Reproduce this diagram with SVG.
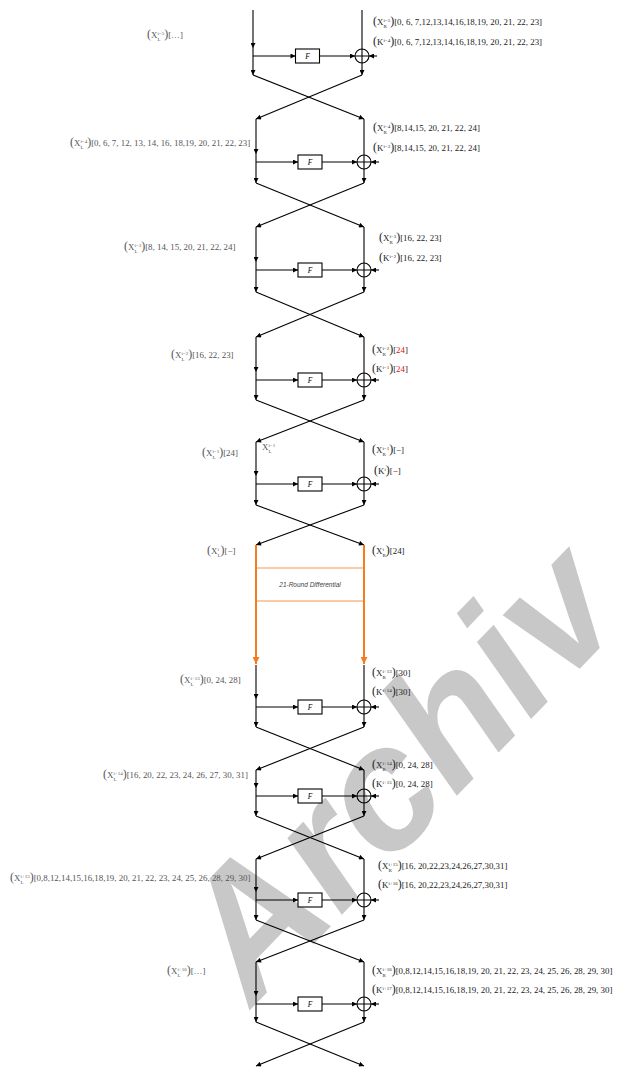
<svg xmlns="http://www.w3.org/2000/svg" width="620" height="1068" viewBox="0 0 620 1068">
<style>
.ln{fill:none;stroke:#000;stroke-width:1.1}
.a{marker-end:url(#ah)}
.or{fill:none;stroke:#f57d1f;stroke-width:2}
.ob{fill:none;stroke:#f57d1f;stroke-width:0.8}
.fb{fill:#fff;stroke:#000;stroke-width:1.1}
.ft{font-family:"Liberation Serif",serif;font-style:italic;font-size:7.5px;fill:#000;text-anchor:middle}
.lb{font-family:"Liberation Serif",serif;font-size:8.9px;fill:#222}
.lg{fill:#555}
.p{font-size:12px}
.s{font-size:5px}
.red{fill:#e01010}
.wm{font-family:"Liberation Sans",sans-serif;font-weight:bold;font-style:italic;font-size:175px;fill:#c8c8c8}
.dt{font-family:"Liberation Sans",sans-serif;font-style:italic;font-size:6.5px;fill:#444;text-anchor:middle}
</style>
<defs>
<marker id="ah" viewBox="0 0 10 10" refX="10" refY="5" markerWidth="6" markerHeight="5" markerUnits="userSpaceOnUse" orient="auto"><path d="M0,0 L10,5 L0,10 z" fill="#000"/></marker>
<marker id="oh" viewBox="0 0 10 10" refX="10" refY="5" markerWidth="9" markerHeight="7" markerUnits="userSpaceOnUse" orient="auto"><path d="M0,0 L10,5 L0,10 z" fill="#f57d1f"/></marker>
</defs>
<rect width="620" height="1068" fill="#fff"/>
<text class="wm" transform="translate(252,1008) rotate(-46)">Archiv</text>

<g id="connectors">
<path class="ln a" d="M253,10V48"/><path class="ln a" d="M253,48V75"/><path class="ln a" d="M253,56H295.5"/><path class="ln a" d="M319.5,56H355"/><path class="ln" d="M362,10V49"/><path class="ln a" d="M362,63V75"/><path class="ln a" d="M377,56H369"/><path class="ln a" d="M253,75L364,119"/><path class="ln a" d="M362,75L256,119"/>
<path class="ln a" d="M256,119V154"/><path class="ln a" d="M256,154V183"/><path class="ln a" d="M256,162H298"/><path class="ln a" d="M322,162H357"/><path class="ln" d="M364,119V155"/><path class="ln a" d="M364,169V183"/><path class="ln a" d="M379,162H371"/><path class="ln a" d="M256,183L364,227"/><path class="ln a" d="M364,183L256,227"/>
<path class="ln a" d="M256,227V262"/><path class="ln a" d="M256,262V292"/><path class="ln a" d="M256,270H298"/><path class="ln a" d="M322,270H357"/><path class="ln" d="M364,227V263"/><path class="ln a" d="M364,277V292"/><path class="ln a" d="M379,270H371"/><path class="ln a" d="M256,292L364,337"/><path class="ln a" d="M364,292L256,337"/>
<path class="ln a" d="M256,337V372"/><path class="ln a" d="M256,372V400"/><path class="ln a" d="M256,380H298"/><path class="ln a" d="M322,380H357"/><path class="ln" d="M364,337V373"/><path class="ln a" d="M364,387V400"/><path class="ln a" d="M379,380H371"/><path class="ln a" d="M256,400L364,442"/><path class="ln a" d="M364,400L256,442"/>
<path class="ln a" d="M256,442V476"/><path class="ln a" d="M256,476V505"/><path class="ln a" d="M256,484H298"/><path class="ln a" d="M322,484H357"/><path class="ln" d="M364,442V477"/><path class="ln a" d="M364,491V505"/><path class="ln a" d="M379,484H371"/><path class="ln a" d="M256,505L364,545"/><path class="ln a" d="M364,505L256,545"/>
<path class="or" d="M256,545V664" marker-end="url(#oh)"/><path class="or" d="M364,545V664" marker-end="url(#oh)"/>
<path class="ln a" d="M256,665V699"/><path class="ln a" d="M256,699V727"/><path class="ln a" d="M256,707H298"/><path class="ln a" d="M322,707H357"/><path class="ln" d="M364,665V700"/><path class="ln a" d="M364,714V727"/><path class="ln a" d="M379,707H371"/><path class="ln a" d="M256,727L364,770"/><path class="ln a" d="M364,727L256,770"/>
<path class="ln a" d="M256,770V788"/><path class="ln a" d="M256,788V816"/><path class="ln a" d="M256,796H298"/><path class="ln a" d="M322,796H357"/><path class="ln" d="M364,770V789"/><path class="ln a" d="M364,803V816"/><path class="ln a" d="M379,796H371"/><path class="ln a" d="M256,816L364,859"/><path class="ln a" d="M364,816L256,859"/>
<path class="ln a" d="M256,859V892"/><path class="ln a" d="M256,892V920"/><path class="ln a" d="M256,900H298"/><path class="ln a" d="M322,900H357"/><path class="ln" d="M364,859V893"/><path class="ln a" d="M364,907V920"/><path class="ln a" d="M379,900H371"/><path class="ln a" d="M256,920L364,962"/><path class="ln a" d="M364,920L256,962"/>
<path class="ln a" d="M256,962V996"/><path class="ln a" d="M256,996V1022"/><path class="ln a" d="M256,1004H298"/><path class="ln a" d="M322,1004H357"/><path class="ln" d="M364,962V997"/><path class="ln a" d="M364,1011V1022"/><path class="ln a" d="M379,1004H371"/><path class="ln a" d="M256,1022L364,1066"/><path class="ln a" d="M364,1022L256,1066"/>
</g>

<g id="diff21"><rect class="ob" x="256" y="568" width="108" height="33" fill="#fff"/><text class="dt" x="310" y="587">21-Round Differential</text></g>

<g id="f1"><rect class="fb" x="295.5" y="49" width="24" height="14"/><text class="ft" x="307.5" y="58.5">F</text></g>
<g id="f2"><rect class="fb" x="298" y="155" width="24" height="14"/><text class="ft" x="310" y="164.5">F</text></g>
<g id="f3"><rect class="fb" x="298" y="263" width="24" height="14"/><text class="ft" x="310" y="272.5">F</text></g>
<g id="f4"><rect class="fb" x="298" y="373" width="24" height="14"/><text class="ft" x="310" y="382.5">F</text></g>
<g id="f5"><rect class="fb" x="298" y="477" width="24" height="14"/><text class="ft" x="310" y="486.5">F</text></g>
<g id="f6"><rect class="fb" x="298" y="700" width="24" height="14"/><text class="ft" x="310" y="709.5">F</text></g>
<g id="f7"><rect class="fb" x="298" y="789" width="24" height="14"/><text class="ft" x="310" y="798.5">F</text></g>
<g id="f8"><rect class="fb" x="298" y="893" width="24" height="14"/><text class="ft" x="310" y="902.5">F</text></g>
<g id="f9"><rect class="fb" x="298" y="997" width="24" height="14"/><text class="ft" x="310" y="1006.5">F</text></g>

<g id="x1"><circle class="ln" cx="362" cy="56" r="7"/><path class="ln" d="M355,56H369M362,49V63"/></g>
<g id="x2"><circle class="ln" cx="364" cy="162" r="7"/><path class="ln" d="M357,162H371M364,155V169"/></g>
<g id="x3"><circle class="ln" cx="364" cy="270" r="7"/><path class="ln" d="M357,270H371M364,263V277"/></g>
<g id="x4"><circle class="ln" cx="364" cy="380" r="7"/><path class="ln" d="M357,380H371M364,373V387"/></g>
<g id="x5"><circle class="ln" cx="364" cy="484" r="7"/><path class="ln" d="M357,484H371M364,477V491"/></g>
<g id="x6"><circle class="ln" cx="364" cy="707" r="7"/><path class="ln" d="M357,707H371M364,700V714"/></g>
<g id="x7"><circle class="ln" cx="364" cy="796" r="7"/><path class="ln" d="M357,796H371M364,789V803"/></g>
<g id="x8"><circle class="ln" cx="364" cy="900" r="7"/><path class="ln" d="M357,900H371M364,893V907"/></g>
<g id="x9"><circle class="ln" cx="364" cy="1004" r="7"/><path class="ln" d="M357,1004H371M364,997V1011"/></g>

<g id="labels">
<text class="lb lg" x="147" y="38"><tspan class="p">(</tspan>X<tspan class="s" dy="-3.5">i−5</tspan><tspan class="s" dx="-6.7" dy="6">L</tspan><tspan class="p" dx="3.64" dy="-2.5">)</tspan>[…]</text>
<text class="lb" x="373" y="25"><tspan class="p">(</tspan>X<tspan class="s" dy="-3.5">i−5</tspan><tspan class="s" dx="-6.7" dy="6">R</tspan><tspan class="p" dx="3.37" dy="-2.5">)</tspan>[0, 6, 7,12,13,14,16,18,19, 20, 21, 22, 23]</text>
<text class="lb" x="373" y="45"><tspan class="p">(</tspan>K<tspan class="s" dy="-3.5">i−4</tspan><tspan class="p" dy="3.5">)</tspan>[0, 6, 7,12,13,14,16,18,19, 20, 21, 22, 23]</text>

<text class="lb lg" x="70" y="146"><tspan class="p">(</tspan>X<tspan class="s" dy="-3.5">i−4</tspan><tspan class="s" dx="-6.7" dy="6">L</tspan><tspan class="p" dx="3.64" dy="-2.5">)</tspan>[0, 6, 7, 12, 13, 14, 16, 18,19, 20, 21, 22, 23]</text>
<text class="lb" x="373" y="131"><tspan class="p">(</tspan>X<tspan class="s" dy="-3.5">i−4</tspan><tspan class="s" dx="-6.7" dy="6">R</tspan><tspan class="p" dx="3.37" dy="-2.5">)</tspan>[8,14,15, 20, 21, 22, 24]</text>
<text class="lb" x="373" y="151"><tspan class="p">(</tspan>K<tspan class="s" dy="-3.5">i−3</tspan><tspan class="p" dy="3.5">)</tspan>[8,14,15, 20, 21, 22, 24]</text>

<text class="lb lg" x="124" y="250"><tspan class="p">(</tspan>X<tspan class="s" dy="-3.5">i−3</tspan><tspan class="s" dx="-6.7" dy="6">L</tspan><tspan class="p" dx="3.64" dy="-2.5">)</tspan>[8, 14, 15, 20, 21, 22, 24]</text>
<text class="lb" x="379" y="241"><tspan class="p">(</tspan>X<tspan class="s" dy="-3.5">i−3</tspan><tspan class="s" dx="-6.7" dy="6">R</tspan><tspan class="p" dx="3.37" dy="-2.5">)</tspan>[16, 22, 23]</text>
<text class="lb" x="379" y="261"><tspan class="p">(</tspan>K<tspan class="s" dy="-3.5">i−2</tspan><tspan class="p" dy="3.5">)</tspan>[16, 22, 23]</text>

<text class="lb lg" x="171" y="358"><tspan class="p">(</tspan>X<tspan class="s" dy="-3.5">i−2</tspan><tspan class="s" dx="-6.7" dy="6">L</tspan><tspan class="p" dx="3.64" dy="-2.5">)</tspan>[16, 22, 23]</text>
<text class="lb" x="372" y="353"><tspan class="p">(</tspan>X<tspan class="s" dy="-3.5">i−2</tspan><tspan class="s" dx="-6.7" dy="6">R</tspan><tspan class="p" dx="3.37" dy="-2.5">)</tspan>[<tspan class="red">24</tspan>]</text>
<text class="lb" x="372" y="372"><tspan class="p">(</tspan>K<tspan class="s" dy="-3.5">i−1</tspan><tspan class="p" dy="3.5">)</tspan>[<tspan class="red">24</tspan>]</text>

<text class="lb lg" x="202" y="456"><tspan class="p">(</tspan>X<tspan class="s" dy="-3.5">i−1</tspan><tspan class="s" dx="-6.7" dy="6">L</tspan><tspan class="p" dx="3.64" dy="-2.5">)</tspan>[24]</text>
<text class="lb lg" x="262" y="450">X<tspan class="s" dy="-3.5">i−1</tspan><tspan class="s" dx="-6.7" dy="6">L</tspan></text>
<text class="lb" x="372" y="453"><tspan class="p">(</tspan>X<tspan class="s" dy="-3.5">i−1</tspan><tspan class="s" dx="-6.7" dy="6">R</tspan><tspan class="p" dx="3.37" dy="-2.5">)</tspan>[−]</text>
<text class="lb" x="374" y="474"><tspan class="p">(</tspan>K<tspan class="s" dy="-3.5">i</tspan><tspan class="p" dy="3.5">)</tspan>[−]</text>

<text class="lb lg" x="207" y="554"><tspan class="p">(</tspan>X<tspan class="s" dy="-3.5">i</tspan><tspan class="s" dx="-1.39" dy="6">L</tspan><tspan class="p" dy="-2.5">)</tspan>[−]</text>
<text class="lb" x="372" y="554"><tspan class="p">(</tspan>X<tspan class="s" dy="-3.5">i</tspan><tspan class="s" dx="-1.39" dy="6">R</tspan><tspan class="p" dy="-2.5">)</tspan>[24]</text>

<text class="lb lg" x="180" y="683"><tspan class="p">(</tspan>X<tspan class="s" dy="-3.5">i+13</tspan><tspan class="s" dx="-9.2" dy="6">L</tspan><tspan class="p" dx="6.14" dy="-2.5">)</tspan>[0, 24, 28]</text>
<text class="lb" x="372" y="676"><tspan class="p">(</tspan>X<tspan class="s" dy="-3.5">i+13</tspan><tspan class="s" dx="-9.2" dy="6">R</tspan><tspan class="p" dx="5.87" dy="-2.5">)</tspan>[30]</text>
<text class="lb" x="372" y="695"><tspan class="p">(</tspan>K<tspan class="s" dy="-3.5">i+14</tspan><tspan class="p" dy="3.5">)</tspan>[30]</text>

<text class="lb lg" x="103" y="778"><tspan class="p">(</tspan>X<tspan class="s" dy="-3.5">i+14</tspan><tspan class="s" dx="-9.2" dy="6">L</tspan><tspan class="p" dx="6.14" dy="-2.5">)</tspan>[16, 20, 22, 23, 24, 26, 27, 30, 31]</text>
<text class="lb" x="372" y="768"><tspan class="p">(</tspan>X<tspan class="s" dy="-3.5">i+14</tspan><tspan class="s" dx="-9.2" dy="6">R</tspan><tspan class="p" dx="5.87" dy="-2.5">)</tspan>[0, 24, 28]</text>
<text class="lb" x="372" y="787"><tspan class="p">(</tspan>K<tspan class="s" dy="-3.5">i+15</tspan><tspan class="p" dy="3.5">)</tspan>[0, 24, 28]</text>

<text class="lb lg" x="10" y="881"><tspan class="p">(</tspan>X<tspan class="s" dy="-3.5">i+15</tspan><tspan class="s" dx="-9.2" dy="6">L</tspan><tspan class="p" dx="6.14" dy="-2.5">)</tspan>[0,8,12,14,15,16,18,19, 20, 21, 22, 23, 24, 25, 26, 28, 29, 30]</text>
<text class="lb" x="378" y="869"><tspan class="p">(</tspan>X<tspan class="s" dy="-3.5">i+15</tspan><tspan class="s" dx="-9.2" dy="6">R</tspan><tspan class="p" dx="5.87" dy="-2.5">)</tspan>[16, 20,22,23,24,26,27,30,31]</text>
<text class="lb" x="378" y="888"><tspan class="p">(</tspan>K<tspan class="s" dy="-3.5">i+16</tspan><tspan class="p" dy="3.5">)</tspan>[16, 20,22,23,24,26,27,30,31]</text>

<text class="lb lg" x="167" y="974"><tspan class="p">(</tspan>X<tspan class="s" dy="-3.5">i+16</tspan><tspan class="s" dx="-9.2" dy="6">L</tspan><tspan class="p" dx="6.14" dy="-2.5">)</tspan>[…]</text>
<text class="lb" x="372" y="974"><tspan class="p">(</tspan>X<tspan class="s" dy="-3.5">i+16</tspan><tspan class="s" dx="-9.2" dy="6">R</tspan><tspan class="p" dx="5.87" dy="-2.5">)</tspan>[0,8,12,14,15,16,18,19, 20, 21, 22, 23, 24, 25, 26, 28, 29, 30]</text>
<text class="lb" x="372" y="993"><tspan class="p">(</tspan>K<tspan class="s" dy="-3.5">i+17</tspan><tspan class="p" dy="3.5">)</tspan>[0,8,12,14,15,16,18,19, 20, 21, 22, 23, 24, 25, 26, 28, 29, 30]</text>
</g>
</svg>
